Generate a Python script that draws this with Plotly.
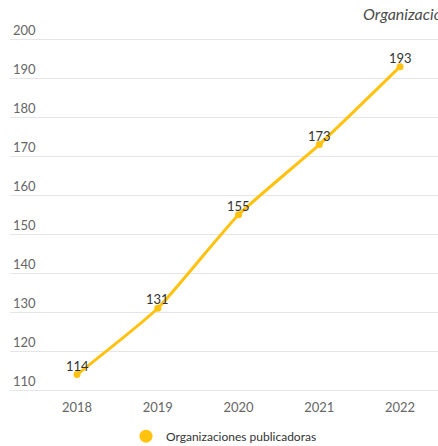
import plotly.graph_objects as go

years = [2018, 2019, 2020, 2021, 2022]
organizaciones = [114, 131, 155, 173, 193]
y_ticks = [110, 120, 130, 140, 150, 160, 170, 180, 190, 200]
series_name = "Organizaciones publicadoras"

gold = "#FFC20E"

fig = go.Figure()

fig.add_trace(go.Scatter(
    x=years, y=organizaciones,
    mode="lines+markers",
    line=dict(color=gold, width=3, shape="spline", smoothing=0.5),
    marker=dict(color=gold, size=7),
    showlegend=False,
    cliponaxis=False,
))

# value labels sitting just above each point
for yr, val in zip(years, organizaciones):
    fig.add_annotation(
        x=yr, y=val, text=str(val), showarrow=False,
        yshift=9, xanchor="center", yanchor="middle",
        font=dict(family="Lato", size=13, color="#333333"),
    )

# legend entry shown as a plain dot
fig.add_trace(go.Scatter(
    x=[None], y=[None], mode="markers",
    marker=dict(color=gold, size=13),
    name=series_name, showlegend=True,
))

fig.add_annotation(
    text="<i>Organizaciones publicadoras</i>",
    xref="paper", yref="paper", x=0.82, y=1.0,
    xanchor="left", yanchor="middle", yshift=3, showarrow=False,
    font=dict(family="Lato", size=16, color="#4D4D4D"),
)

fig.update_layout(
    width=438, height=446,
    margin=dict(l=10, r=0, t=16, b=52, autoexpand=False),
    paper_bgcolor="white", plot_bgcolor="white",
    font=dict(family="Lato", color="#666666", size=13),
    legend=dict(orientation="h", x=0.5, xanchor="center",
                yref="container", y=0.022, yanchor="middle",
                font=dict(family="Lato", size=12, color="#333333"),
                itemwidth=30),
)

fig.update_xaxes(
    range=[2017.17, 2022.47], tickvals=years, ticktext=[str(y) for y in years],
    showgrid=False, zeroline=False, showline=False,
    ticklabelstandoff=4,
    tickfont=dict(family="Lato", size=13, color="#666666"),
)
fig.update_yaxes(
    range=[109, 206], tickvals=y_ticks,
    ticklabelposition="inside top",
    showgrid=True, gridcolor="#E6E6E6", gridwidth=1,
    zeroline=False, showline=False,
    tickfont=dict(family="Lato", size=13, color="#666666"),
)

fig.write_html("out.html")
